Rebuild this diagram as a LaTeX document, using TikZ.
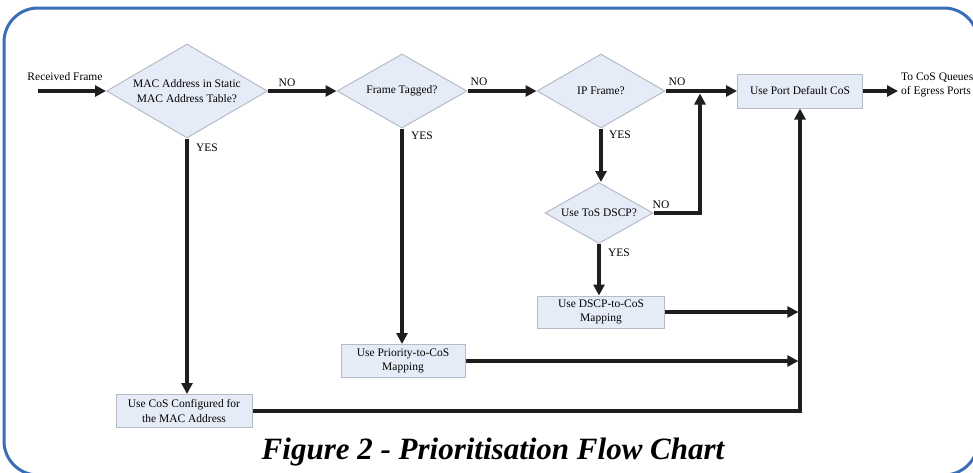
\documentclass[tikz,border=0pt]{standalone}
\usepackage{fontspec}
\setmainfont{Liberation Serif}
\usetikzlibrary{shapes.geometric,arrows.meta}
\definecolor{fillblue}{HTML}{E6ECF7}
\definecolor{edgegray}{HTML}{B4BCC8}
\definecolor{frameblue}{HTML}{3A6FB8}
\definecolor{linec}{HTML}{1E1E1E}
\tikzset{
  dec/.style={diamond, draw=edgegray, fill=fillblue, line width=1pt, inner sep=0pt, aspect=1.7, align=center, font=\fontsize{11.5}{14.5}\selectfont},
  procbox/.style={rectangle, draw=edgegray, fill=fillblue, line width=1pt, inner sep=0pt, align=center, font=\fontsize{11.5}{14.5}\selectfont},
  flow/.style={draw=linec, line width=3.2pt, -{Triangle[length=11pt,width=11pt]}},
  lbl/.style={font=\fontsize{11.5}{13}\selectfont, inner sep=0pt},
}
\begin{document}
\begin{tikzpicture}[x=1pt,y=-1pt]
\useasboundingbox (0,0) rectangle (973,472);
\draw[frameblue, line width=3pt, rounded corners=34pt] (4,8) rectangle (978,475);

\node[lbl] (recv) at (65,77) {Received Frame};
\coordinate (rin) at (38,91);

\node[dec, minimum width=161pt, minimum height=94pt] (d1) at (187,91) {MAC Address in Static\\MAC Address Table?};
\node[dec, minimum width=130pt, minimum height=74pt] (d2) at (402,91) {Frame Tagged?};
\node[dec, minimum width=128pt, minimum height=74pt] (d3) at (601,91) {IP Frame?};
\node[procbox, minimum width=125pt, minimum height=34pt] (p) at (800,91) {Use Port Default CoS};
\node[lbl, anchor=west, align=left, font=\fontsize{11.5}{14}\selectfont] (out) at (901,85) {To CoS Queues\\of Egress Ports};
\coordinate (oute) at (898,91);

\node[dec, minimum width=108pt, minimum height=61pt] (d4) at (599,213) {Use ToS DSCP?};
\node[procbox, minimum width=127pt, minimum height=32pt] (b6) at (601,312) {Use DSCP-to-CoS\\Mapping};
\node[procbox, minimum width=124pt, minimum height=33pt] (b5) at (403,361) {Use Priority-to-CoS\\Mapping};
\node[procbox, minimum width=136pt, minimum height=33pt] (b4) at (184,411) {Use CoS Configured for\\the MAC Address};

\coordinate (j1) at (700,93.5);
\coordinate (col) at (800,410);

% main row
\draw[flow] (rin) -- (d1.west);
\draw[flow] (d1.east) -- (d2.west);
\draw[flow] (d2.east) -- (d3.west);
\draw[flow] (d3.east) -- (p.west);
\draw[flow] (p.east) -- (oute);

% YES branches
\draw[flow] (d1.south) -- (d1.south |- b4.north);
\draw[flow] (d2.south) -- (d2.south |- b5.north);
\draw[flow] (d3.south) -- (d3.south |- d4.north);
\draw[flow] (d4.south) -- (d4.south |- b6.north);

% NO from ToS
\draw[flow] (d4.east) -| (j1);

% returns to default
\draw[flow] (b6.east) -- ([xshift=-1.6pt]b6.east -| col);
\draw[flow] (b5.east) -- ([xshift=-1.6pt]b5.east -| col);
\draw[flow] (b4.east) -| (p.south);

% labels
\node[lbl] (n1) at (287,83) {NO};
\node[lbl] (n2) at (479,82) {NO};
\node[lbl] (n3) at (677,82) {NO};
\node[lbl] (n4) at (661,205) {NO};
\node[lbl] (y1) at (207,148) {YES};
\node[lbl] (y2) at (422,136) {YES};
\node[lbl] (y3) at (620,135) {YES};
\node[lbl] (y4) at (619,253) {YES};

\node[font=\fontsize{31}{34}\selectfont\bfseries\itshape, inner sep=0pt] (cap) at (493,452) {Figure 2 - Prioritisation Flow Chart};
\end{tikzpicture}
\end{document}
